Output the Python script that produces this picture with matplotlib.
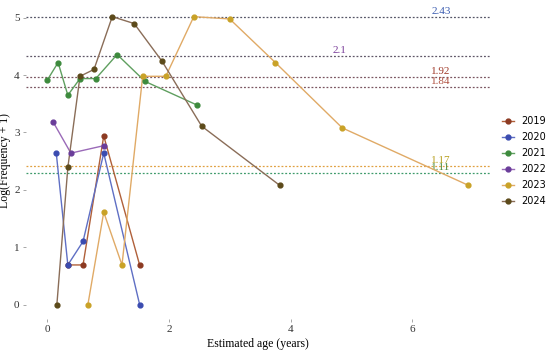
import matplotlib.pyplot as plt

# ln(frequency + 1) by estimated age, one list pair per year
years = ["2019", "2020", "2021", "2022", "2023", "2024"]

age_2019 = [0.34, 0.59, 0.93, 1.52]
freq_2019 = [0.69, 0.69, 2.94, 0.69]

age_2020 = [0.15, 0.34, 0.59, 0.93, 1.52]
freq_2020 = [2.64, 0.69, 1.10, 2.64, 0.0]

age_2021 = [0.0, 0.18, 0.34, 0.54, 0.80, 1.15, 1.61, 2.46]
freq_2021 = [3.91, 4.22, 3.65, 3.94, 3.94, 4.36, 3.89, 3.48]

age_2022 = [0.10, 0.39, 0.93]
freq_2022 = [3.18, 2.64, 2.77]

age_2023 = [0.67, 0.93, 1.23, 1.57, 1.95, 2.41, 3.00, 3.75, 4.85, 6.92]
freq_2023 = [0.0, 1.61, 0.69, 3.98, 3.98, 5.02, 4.98, 4.22, 3.08, 2.08]

age_2024 = [0.16, 0.34, 0.54, 0.77, 1.07, 1.43, 1.89, 2.54, 3.82]
freq_2024 = [0.0, 2.39, 3.98, 4.10, 5.02, 4.90, 4.24, 3.11, 2.08]

# reference lines: position on the axis and the printed label
ref_years = ["2020", "2022", "2019", "2024", "2023", "2021"]
ref_values = [5.02, 4.34, 3.96, 3.80, 2.42, 2.30]
ref_labels = ["2.43", "2.1", "1.92", "1.84", "1.17", "1.11"]
ref_label_x = [6.47, 4.80, 6.47, 6.47, 6.47, 6.47]

point_colors = {"2019": "#8c3a22", "2020": "#3b4cb0", "2021": "#3d8a3d",
                "2022": "#6a3d9a", "2023": "#c9a227", "2024": "#5c4a1a"}
line_colors = {"2019": "#b0603a", "2020": "#5f6fc4", "2021": "#5f9f5f",
               "2022": "#9a6ab8", "2023": "#e0aa66", "2024": "#8a6d58"}
ref_line_colors = {"2019": "#7a5560", "2020": "#555566", "2021": "#3d9a6a",
                   "2022": "#5f5566", "2023": "#e0a040", "2024": "#7a5560"}
label_colors = {"2019": "#a03a2a", "2020": "#3b5cb0", "2021": "#4a8a3a",
                "2022": "#7a3d9a", "2023": "#b8a020", "2024": "#b05040"}

series = {
    "2019": (age_2019, freq_2019),
    "2020": (age_2020, freq_2020),
    "2021": (age_2021, freq_2021),
    "2022": (age_2022, freq_2022),
    "2023": (age_2023, freq_2023),
    "2024": (age_2024, freq_2024),
}

serif = "Liberation Serif"

fig = plt.figure(figsize=(5.5, 3.5), dpi=100)
ax = fig.add_axes([0.047, 0.089, 0.843, 0.906])

for yr, val in zip(ref_years, ref_values):
    ax.axhline(val, color=ref_line_colors[yr], linestyle=(0, (1.5, 1.5)), linewidth=0.9, zorder=1)

for yr, val, lab, lx in zip(ref_years, ref_values, ref_labels, ref_label_x):
    ax.annotate(lab, (lx, val), xytext=(0, 1), textcoords="offset pixels",
                ha="center", va="bottom", fontsize=8, family=serif,
                color=label_colors[yr], zorder=2)

for yr in years:
    xs, ys = series[yr]
    ax.plot(xs, ys, color=line_colors[yr], linewidth=1.0, zorder=3)
    ax.scatter(xs, ys, color=point_colors[yr], s=12, zorder=4)
    # proxy for the legend: line with a dot
    ax.plot([], [], color=line_colors[yr], linewidth=1.0, marker="o",
            markersize=3.5, markerfacecolor=point_colors[yr],
            markeredgecolor=point_colors[yr], label=yr)

ax.set_xlim(-0.35, 7.27)
ax.set_ylim(-0.25, 5.28)
ax.set_xticks([0, 2, 4, 6])
ax.set_yticks([0, 1, 2, 3, 4, 5])
for s in ax.spines.values():
    s.set_visible(False)
ax.tick_params(axis="both", length=2.5, width=0.6, color="#999999",
               labelsize=8, labelcolor="#333333", pad=2)
for t in ax.get_xticklabels() + ax.get_yticklabels():
    t.set_family(serif)

ax.set_xlabel("Estimated age (years)", fontsize=8.5, family=serif, labelpad=3)
ax.set_ylabel("Log(Frequency + 1)", fontsize=8.5, family=serif)
ax.yaxis.set_label_coords(-0.032, 0.5)

ax.legend(loc="center left", bbox_to_anchor=(0.912, 0.54),
          bbox_transform=fig.transFigure, frameon=False,
          fontsize=7, handlelength=1.3, handletextpad=0.7,
          labelspacing=0.62, borderaxespad=0, borderpad=0)

fig.savefig("out.png", dpi=100)
